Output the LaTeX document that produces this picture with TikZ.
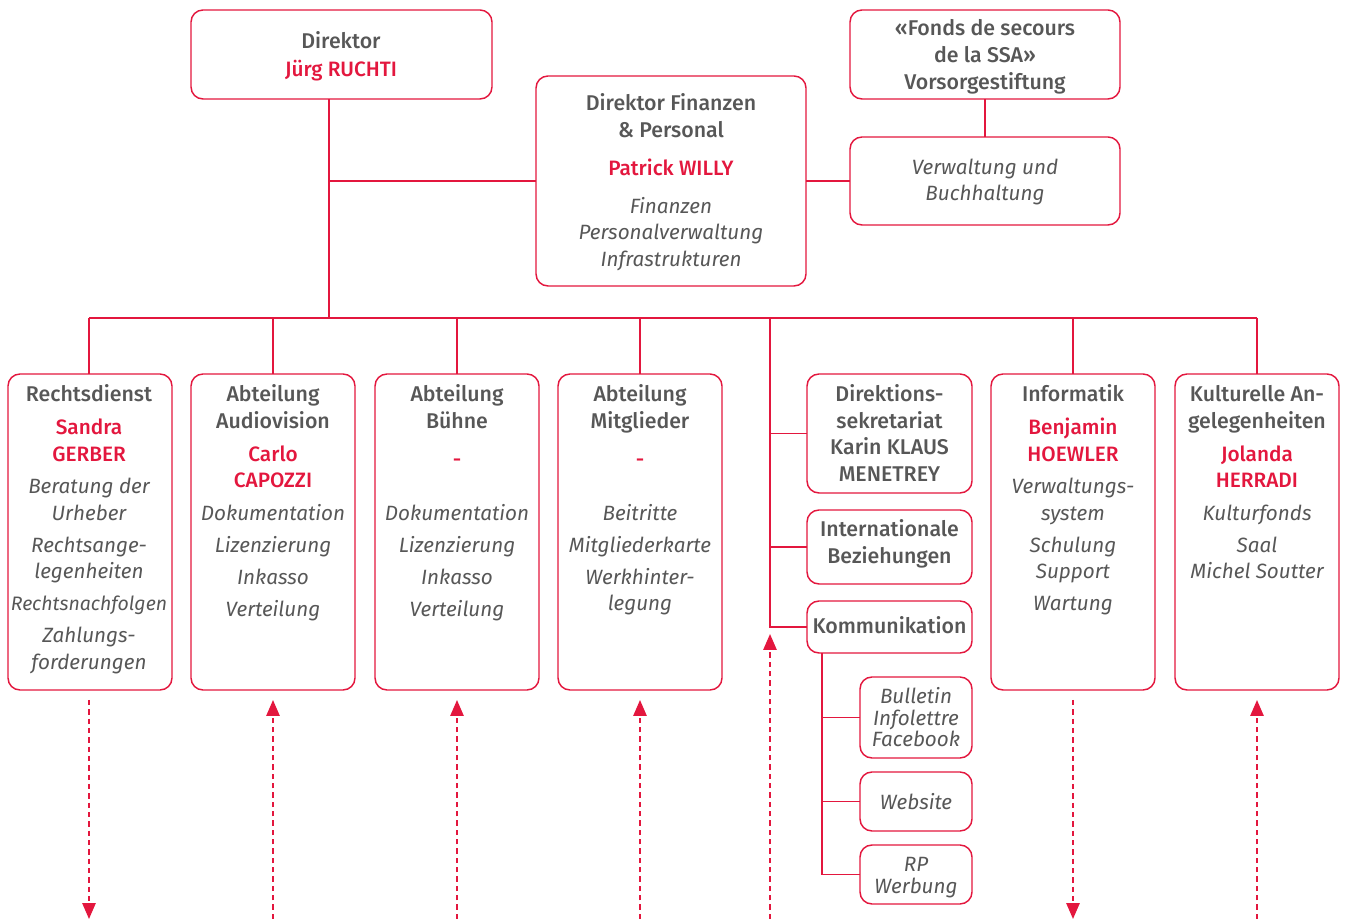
\documentclass[tikz,border=0pt]{standalone}
\usepackage{fontspec}
\setmainfont{Fira Sans}
\newfontfamily\medfont{Fira Sans Medium}
\usetikzlibrary{arrows.meta}
\definecolor{sred}{HTML}{E3173E}
\definecolor{sgray}{HTML}{575757}
\newcommand\tblock[3]{\foreach \t/\y/\s [count=\i] in {#3} {\node[\s] (#1\i) at (#2,{\y+7}) {\t};}}
\newcommand\bx[5]{\node[box,minimum width={(#4-#2)*0.75pt},minimum height={(#5-#3)*0.75pt}] (#1) at ({(#2+#4)/2},{(#3+#5)/2}) {};}
\begin{document}
\begin{tikzpicture}[x=0.75pt,y=-0.75pt,
 box/.style={draw=sred, line width=1.1pt, rounded corners=9pt, inner sep=0pt, outer sep=0pt},
 ln/.style={draw=sred, line width=1.1pt},
 tx/.style={anchor=base, inner sep=0pt, text=sgray, font=\fontsize{16}{19}\medfont},
 hd/.style={tx},
 nm/.style={tx, text=sred, font=\fontsize{15.6}{19}\medfont},
 it/.style={tx, font=\fontsize{15.5}{18}\selectfont\itshape},
 its/.style={tx, font=\fontsize{14.6}{18}\selectfont\itshape},
 dar/.style={draw=sred, line width=1.4pt, dash pattern=on 4pt off 3pt, -{Triangle[width=10pt,length=12pt]}}]
\useasboundingbox (0,0) rectangle (1347,919);
% boxes
\bx{dir}{191}{10}{492}{99}
\bx{fonds}{850}{10}{1120}{99}
\bx{verw}{850}{137}{1120}{225}
\bx{fin}{536}{76}{806}{286}
\bx{rd}{8}{374}{172}{690}
\bx{av}{191}{374}{355}{690}
\bx{bu}{375}{374}{539}{690}
\bx{mg}{558}{374}{722}{690}
\bx{inf}{991}{374}{1155}{690}
\bx{ku}{1175}{374}{1339}{690}
\bx{sek}{807}{374}{972}{493}
\bx{int}{807}{510}{972}{584}
\bx{kom}{807}{601}{972}{653}
\bx{bul}{860}{677}{972}{758}
\bx{web}{860}{772}{972}{831}
\bx{rp}{860}{845}{972}{904}
% texts
\tblock{dirT}{341}{Direktor/42/hd, Jürg RUCHTI/70/nm}
\tblock{fondsT}{985}{«Fonds de secours/29/hd, de la SSA»/56/hd, Vorsorgestiftung/83/hd}
\tblock{verwT}{985}{Verwaltung und/168/it, Buchhaltung/194/it}
\tblock{finT}{671}{Direktor Finanzen/104/hd, \& Personal/131/hd, Patrick WILLY/169/nm, Finanzen/207/it, Personalverwaltung/233/it, Infrastrukturen/260/it}
\tblock{rdT}{89}{Rechtsdienst/395/hd, Sandra/428/nm, GERBER/455/nm, Beratung der/487/it, Urheber/514/it, Rechtsange-/546/it, legenheiten/572/it, Rechtsnachfolgen/604/its, Zahlungs-/636/it, forderungen/663/it}
\tblock{avT}{273}{Abteilung/395/hd, Audiovision/422/hd, Carlo/455/nm, CAPOZZI/481/nm, Dokumentation/514/it, Lizenzierung/546/it, Inkasso/578/it, Verteilung/610/it}
\tblock{buT}{457}{Abteilung/395/hd, Bühne/422/hd, -/460/nm, Dokumentation/514/it, Lizenzierung/546/it, Inkasso/578/it, Verteilung/610/it}
\tblock{mgT}{640}{Abteilung/395/hd, Mitglieder/422/hd, -/460/nm, Beitritte/514/it, Mitgliederkarte/546/it, Werkhinter-/578/it, legung/604/it}
\tblock{infT}{1073}{Informatik/395/hd, Benjamin/428/nm, HOEWLER/455/nm, Verwaltungs-/487/it, system/514/it, Schulung/546/it, Support/572/it, Wartung/604/it}
\tblock{kuT}{1257}{Kulturelle An-/395/hd, gelegenheiten/422/hd, Jolanda/455/nm, HERRADI/481/nm, Kulturfonds/514/it, Saal/546/it, Michel Soutter/572/it}
\tblock{sekT}{889.5}{Direktions-/395/hd, sekretariat/422/hd, Karin KLAUS/448/hd, MENETREY/475/hd}
\tblock{intT}{889.5}{Internationale/530/hd, Beziehungen/557/hd}
\tblock{komT}{889.5}{Kommunikation/627/hd}
\tblock{bulT}{916}{Bulletin/697/it, Infolettre/718/it, Facebook/740/it}
\tblock{webT}{916}{Website/802/it}
\tblock{rpT}{916}{RP/864/it, Werbung/886/it}
% connectors
\coordinate (bm) at (329,318);
\coordinate (fj) at (329,181);
\coordinate (b1) at (89,318);
\coordinate (b2) at (273,318);
\coordinate (b3) at (457,318);
\coordinate (b4) at (640,318);
\coordinate (bmid) at (770,318);
\coordinate (b6) at (1073,318);
\coordinate (b7) at (1257,318);
\coordinate (mend) at (770,627);
\coordinate (kv) at (822,653);
\coordinate (kend) at (822,874.5);
\coordinate (bot) at (0,919);
\coordinate (mtip) at (770,634);
\draw[ln] (bm |- dir.south) -- (bm);
\draw[ln] (fj) -- (fj -| fin.west);
\draw[ln] (fin.east) -- (verw.west);
\draw[ln] (fonds.south) -- (verw.north);
\draw[ln] (b1) -- (b7);
\foreach \b/\n in {b1/rd,b2/av,b3/bu,b4/mg,b6/inf,b7/ku} {\draw[ln] (\b) -- (\b |- \n.north);}
\draw[ln] (bmid) -- (mend) -- (kom.west);
\draw[ln] (bmid |- sek.west) -- (sek.west);
\draw[ln] (bmid |- int.west) -- (int.west);
\draw[ln] (kv) -- (kend) -- (rp.west);
\draw[ln] (kv |- bul.west) -- (bul.west);
\draw[ln] (kv |- web.west) -- (web.west);
% dashed arrows
\draw[dar] ([yshift=-7.5pt]rd.south -| b1) -- (b1 |- bot);
\draw[dar] (b2 |- bot) -- ([yshift=-7.5pt]av.south -| b2);
\draw[dar] (b3 |- bot) -- ([yshift=-7.5pt]bu.south -| b3);
\draw[dar] (b4 |- bot) -- ([yshift=-7.5pt]mg.south -| b4);
\draw[dar] (bmid |- bot) -- (mtip);
\draw[dar] ([yshift=-7.5pt]inf.south -| b6) -- (b6 |- bot);
\draw[dar] (b7 |- bot) -- ([yshift=-7.5pt]ku.south -| b7);
\end{tikzpicture}
\end{document}
